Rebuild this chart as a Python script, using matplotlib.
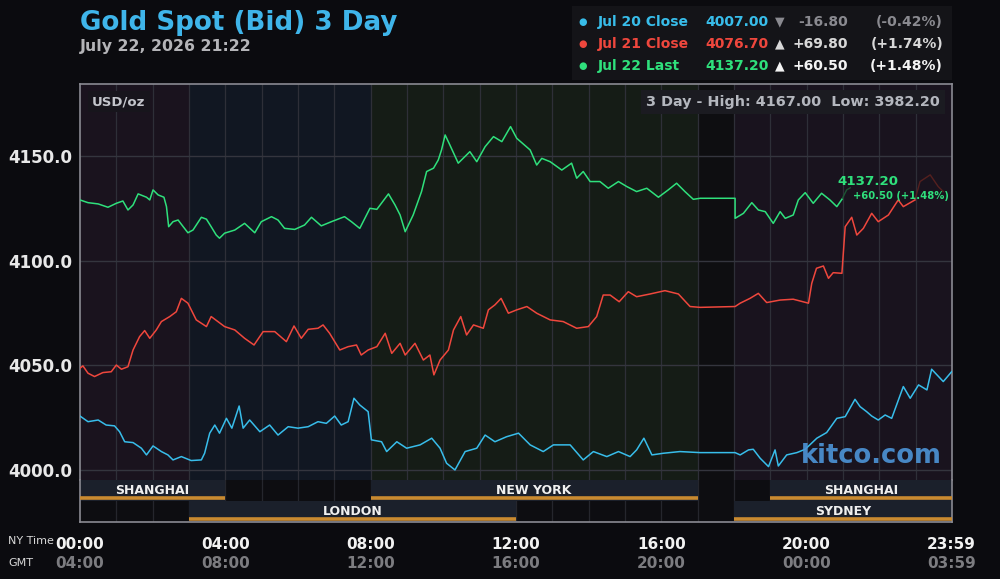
import numpy as np
import matplotlib as mpl
from matplotlib import pyplot as plt
from matplotlib.patches import Rectangle

# ---- data (hours NY time, USD/oz) ----
jul20_hours = [0.0, 0.22, 0.5, 0.72, 0.95, 1.09, 1.23, 1.46, 1.69, 1.83, 2.01, 2.24, 2.42, 2.56, 2.79,
               3.06, 3.34, 3.43, 3.57, 3.71, 3.84, 4.03, 4.18, 4.38, 4.49, 4.67, 4.95, 5.22, 5.45, 5.73,
               6.0, 6.28, 6.55, 6.78, 7.01, 7.19, 7.38, 7.54, 7.70, 7.93, 8.02, 8.30, 8.44, 8.72, 8.99,
               9.36, 9.68, 9.91, 10.09, 10.32, 10.60, 10.92, 11.15, 11.42, 11.74, 12.07, 12.39, 12.75,
               13.03, 13.49, 13.85, 14.13, 14.50, 14.82, 15.14, 15.32, 15.52, 15.74, 16.06, 16.51, 17.07,
               18.03, 18.17, 18.40, 18.53, 18.72, 18.95, 19.13, 19.22, 19.45, 19.73, 19.96, 20.28, 20.55,
               20.83, 21.06, 21.33, 21.47, 21.65, 21.79, 21.97, 22.16, 22.34, 22.66, 22.85, 23.08, 23.31,
               23.44, 23.76, 23.99]
jul20_values = [4025.8, 4023.1, 4023.9, 4021.5, 4021.1, 4018.3, 4013.5, 4013.1, 4010.4, 4007.2, 4011.5,
                4008.8, 4007.2, 4004.8, 4006.4, 4004.5, 4004.8, 4008.0, 4017.6, 4021.5, 4017.6, 4024.7,
                4020.0, 4030.6, 4020.0, 4023.9, 4018.3, 4021.5, 4016.7, 4020.7, 4020.0, 4020.7, 4023.1,
                4022.3, 4025.8, 4021.5, 4023.1, 4034.3, 4031.1, 4027.9, 4014.4, 4013.5, 4008.8, 4013.5,
                4010.4, 4012.0, 4015.2, 4010.4, 4003.2, 4000.0, 4008.8, 4010.4, 4016.7, 4013.5, 4015.9,
                4017.6, 4012.0, 4008.8, 4012.0, 4012.0, 4004.8, 4008.8, 4006.4, 4008.8, 4006.4, 4009.6,
                4015.2, 4007.2, 4008.0, 4008.8, 4008.3, 4008.3, 4007.2, 4009.6, 4009.9, 4005.6, 4001.6,
                4009.6, 4001.9, 4007.2, 4008.3, 4009.9, 4015.2, 4017.9, 4024.7, 4025.5, 4033.8, 4030.3,
                4027.9, 4025.8, 4023.9, 4026.3, 4024.7, 4039.9, 4034.3, 4040.7, 4038.3, 4048.2, 4042.3,
                4047.0]

jul21_hours = [0.0, 0.08, 0.22, 0.40, 0.63, 0.86, 1.0, 1.14, 1.32, 1.46, 1.64, 1.78, 1.92, 2.10, 2.24,
               2.47, 2.65, 2.79, 2.97, 3.20, 3.48, 3.61, 3.98, 4.26, 4.53, 4.79, 5.04, 5.36, 5.68, 5.89,
               6.09, 6.28, 6.55, 6.69, 6.87, 7.15, 7.38, 7.61, 7.74, 7.93, 8.17, 8.40, 8.58, 8.81, 8.95,
               9.22, 9.45, 9.63, 9.74, 9.91, 10.14, 10.28, 10.48, 10.64, 10.83, 11.10, 11.24, 11.42, 11.59,
               11.79, 12.02, 12.30, 12.57, 12.94, 13.30, 13.67, 13.99, 14.22, 14.40, 14.59, 14.84, 15.09,
               15.32, 15.69, 16.10, 16.47, 16.79, 17.07, 18.03, 18.17, 18.44, 18.67, 18.90, 19.27, 19.63,
               20.05, 20.14, 20.27, 20.46, 20.60, 20.73, 20.97, 21.06, 21.24, 21.38, 21.56, 21.79, 21.97,
               22.25, 22.52, 22.66, 22.98]
jul21_values = [4048.7, 4049.8, 4046.3, 4044.7, 4046.6, 4047.0, 4050.2, 4048.2, 4049.4, 4057.4, 4063.8,
                4066.7, 4063.0, 4067.0, 4071.0, 4073.4, 4075.7, 4082.1, 4079.8, 4071.8, 4068.6, 4073.4,
                4068.6, 4067.0, 4063.0, 4059.8, 4066.2, 4066.2, 4061.4, 4068.9, 4063.0, 4067.3, 4067.8,
                4069.4, 4065.4, 4057.4, 4059.0, 4059.8, 4055.0, 4057.4, 4059.0, 4065.4, 4055.8, 4060.6,
                4055.0, 4060.6, 4052.6, 4055.0, 4045.5, 4052.6, 4057.4, 4067.0, 4073.4, 4064.6, 4069.4,
                4067.8, 4076.6, 4079.0, 4082.1, 4075.0, 4076.6, 4078.2, 4075.0, 4071.8, 4071.0, 4067.8,
                4068.6, 4073.4, 4083.7, 4083.7, 4080.5, 4085.3, 4082.9, 4084.2, 4085.8, 4084.2, 4078.2,
                4077.8, 4078.2, 4079.8, 4082.1, 4084.5, 4080.1, 4081.3, 4081.7, 4079.8, 4089.3, 4096.5,
                4097.6, 4091.7, 4094.4, 4094.1, 4116.4, 4120.9, 4112.4, 4115.6, 4122.8, 4118.8, 4122.0,
                4129.2, 4126.0, 4129.2]
jul21_tail_hours = [22.98, 23.12, 23.40, 23.62, 23.76]
jul21_tail_values = [4129.2, 4138.0, 4141.2, 4135.6, 4133.2]

jul22_hours = [0.0, 0.22, 0.5, 0.77, 1.0, 1.18, 1.32, 1.46, 1.6, 1.83, 1.92, 2.01, 2.15, 2.31, 2.38, 2.44,
               2.56, 2.70, 2.84, 2.97, 3.11, 3.34, 3.48, 3.61, 3.75, 3.84, 3.98, 4.26, 4.53, 4.81, 4.99,
               5.27, 5.45, 5.63, 5.91, 6.18, 6.37, 6.64, 6.92, 7.28, 7.47, 7.70, 7.84, 7.98, 8.17, 8.49,
               8.67, 8.81, 8.95, 9.17, 9.40, 9.54, 9.73, 9.86, 9.95, 10.05, 10.18, 10.41, 10.73, 10.92,
               11.15, 11.38, 11.61, 11.85, 12.02, 12.39, 12.57, 12.71, 12.94, 13.26, 13.53, 13.67, 13.85,
               14.04, 14.31, 14.54, 14.82, 15.05, 15.32, 15.60, 15.92, 16.19, 16.42, 16.65, 16.88, 17.07,
               18.03, 18.03, 18.26, 18.49, 18.67, 18.86, 19.08, 19.27, 19.41, 19.63, 19.77, 19.96, 20.18,
               20.41, 20.64, 20.83, 20.97]
jul22_values = [4129.2, 4127.9, 4127.3, 4125.7, 4127.6, 4128.7, 4124.4, 4126.8, 4132.1, 4130.5, 4129.2,
                4134.0, 4131.6, 4130.5, 4126.0, 4116.4, 4118.8, 4119.6, 4116.4, 4113.5, 4114.8, 4120.9,
                4120.0, 4116.4, 4112.4, 4110.9, 4113.3, 4114.8, 4118.0, 4113.5, 4118.8, 4121.2, 4119.6,
                4115.6, 4115.1, 4117.2, 4120.9, 4116.8, 4118.8, 4121.2, 4118.8, 4115.6, 4120.4, 4125.2,
                4124.7, 4132.1, 4126.8, 4122.0, 4114.0, 4122.0, 4133.2, 4142.8, 4144.4, 4148.3, 4153.1,
                4160.3, 4155.5, 4146.8, 4152.3, 4147.5, 4154.7, 4159.5, 4157.1, 4164.3, 4158.7, 4153.1,
                4145.9, 4149.1, 4147.5, 4143.5, 4146.8, 4139.6, 4142.8, 4138.0, 4138.0, 4134.8, 4138.0,
                4135.6, 4133.2, 4134.8, 4130.5, 4134.0, 4137.2, 4133.2, 4129.5, 4130.0, 4130.0, 4120.4,
                4122.8, 4127.9, 4124.4, 4123.6, 4118.0, 4123.6, 4120.4, 4122.0, 4129.2, 4132.7, 4127.6,
                4132.4, 4129.2, 4126.0, 4129.5]
jul22_tail_hours = [20.97, 21.1, 21.2]
jul22_tail_values = [4129.5, 4134.0, 4135.0]

# background sessions in the price area (start, end, colour)
shade_spans = [(0, 3, "#1a131e"), (3, 8, "#111722"), (8, 17, "#151c16"), (17, 18, "#0e0e11"), (18, 24, "#19131e")]

# market sessions below the chart (name, start, end, row)
session_names = ["SHANGHAI", "NEW YORK", "SHANGHAI", "LONDON", "SYDNEY"]
session_start = [0, 8, 19, 3, 18]
session_end = [4, 17, 24, 12, 24]
session_row = [0, 0, 0, 1, 1]

legend_labels = ["Jul 20 Close", "Jul 21 Close", "Jul 22 Last"]
legend_values = ["4007.00", "4076.70", "4137.20"]
legend_arrows = ["\u25BC", "\u25B2", "\u25B2"]
legend_changes = ["-16.80", "+69.80", "+60.50"]
legend_pcts = ["(-0.42%)", "(+1.74%)", "(+1.48%)"]

ny_ticks = [0, 4, 8, 12, 16, 20, 23.99]
ny_labels = ["00:00", "04:00", "08:00", "12:00", "16:00", "20:00", "23:59"]
gmt_labels = ["04:00", "08:00", "12:00", "16:00", "20:00", "00:00", "03:59"]
y_ticks = [4000, 4050, 4100, 4150]

CYAN = "#38bdea"
RED = "#ef473d"
GREEN = "#2fe07c"
BG = "#0b0b0f"

mpl.rcParams['font.family'] = 'DejaVu Sans'

fig = plt.figure(figsize=(10, 5.79), dpi=100, facecolor=BG)
ax = fig.add_axes([0.08, 0.171, 0.872, 0.684])
sax = fig.add_axes([0.08, 0.0985, 0.872, 0.0725])

# price area
ax.set_facecolor(BG)
ax.set_xlim(0, 24)
ax.set_ylim(3995.2, 4184.7)
for start, end, col in shade_spans:
    ax.axvspan(start, end, color=col, lw=0, zorder=0)
for h in range(1, 24):
    ax.axvline(h, color="#2e2f38", lw=0.9, zorder=1)
for yv in y_ticks:
    ax.axhline(yv, color="#34353e", lw=1.0, zorder=1)

ax.plot(jul22_tail_hours, jul22_tail_values, color="#1d5634", lw=1.0, zorder=2)
ax.plot(jul21_tail_hours, jul21_tail_values, color="#55201f", lw=1.0, zorder=2)
ax.plot(jul20_hours, jul20_values, color=CYAN, lw=1.1, zorder=3)
ax.plot(jul21_hours, jul21_values, color=RED, lw=1.1, zorder=3)
ax.plot(jul22_hours, jul22_values, color=GREEN, lw=1.1, zorder=3)

ax.set_xticks([])
ax.set_yticks(y_ticks)
ax.set_yticklabels(["{:.1f}".format(v) for v in y_ticks])
ax.tick_params(axis="y", length=0, pad=5.5, labelsize=12, labelcolor="#e8e8e8")
for lab in ax.get_yticklabels():
    lab.set_fontweight("bold")
for side in ["left", "top", "right"]:
    ax.spines[side].set_color("#8a8a92")
    ax.spines[side].set_linewidth(1.2)
ax.spines["bottom"].set_visible(False)

ax.text(0.014, 0.955, "USD/oz", transform=ax.transAxes, color="#c4c6cc", fontsize=9.5,
        fontweight="bold", va="center", ha="left", zorder=5,
        bbox=dict(boxstyle="square,pad=0.3", fc="#17151c", ec="none"))
ax.text(0.986, 0.955, "3 Day - High: 4167.00  Low: 3982.20", transform=ax.transAxes,
        color="#b4b7be", fontsize=10.4, fontweight="bold", va="center", ha="right", zorder=5,
        bbox=dict(boxstyle="square,pad=0.35", fc="#1b1b21", ec="none"))
ax.text(20.84, 4138.0, "4137.20", color=GREEN, fontsize=9.6, fontweight="bold", va="center", ha="left", zorder=5)
ax.text(21.27, 4131.3, "+60.50 (+1.48%)", color=GREEN, fontsize=7.2, fontweight="bold", va="center", ha="left", zorder=5)
ax.text(0.988, 0.06, "kitco.com", transform=ax.transAxes, color="#4d95d8", alpha=0.9,
        fontsize=18.5, fontweight="bold", va="center", ha="right", zorder=4)

# session bars
sax.set_facecolor("#0d0d11")
sax.set_xlim(0, 24)
sax.set_ylim(2, 0)
for h in range(1, 24):
    sax.axvline(h, color="#25262d", lw=0.9, zorder=1)
for name, s, e, r in zip(session_names, session_start, session_end, session_row):
    sax.add_patch(Rectangle((s, r), e - s, 1, fc="#1b202b", ec="none", zorder=2))
    sax.plot([s, e], [r + 0.85, r + 0.85], color="#c98a30", lw=2.6, solid_capstyle="butt", zorder=3)
    sax.text((s + e) / 2, r + 0.5, name, color="#f0f0f0", fontsize=9, fontweight="bold",
             ha="center", va="center", zorder=4)
sax.set_xticks(ny_ticks)
sax.set_xticklabels(ny_labels)
sax.set_yticks([])
sax.tick_params(axis="x", length=0, pad=11, labelsize=11, labelcolor="#f2f2f2")
for lab in sax.get_xticklabels():
    lab.set_fontweight("bold")
for side in ["left", "right", "bottom"]:
    sax.spines[side].set_color("#8a8a92")
    sax.spines[side].set_linewidth(1.2)
sax.spines["top"].set_visible(False)
gmt_trans = mpl.transforms.blended_transform_factory(sax.transData, fig.transFigure)
for t, g in zip(ny_ticks, gmt_labels):
    sax.text(t, 1 - 563 / 579, g, transform=gmt_trans,
             color="#7c7c80", fontsize=11, fontweight="bold", ha="center", va="center")

fig.text(8 / 1000, 1 - 541 / 579, "NY Time", color="#d8d8d8", fontsize=8, ha="left", va="center")
fig.text(8 / 1000, 1 - 563 / 579, "GMT", color="#d8d8d8", fontsize=8, ha="left", va="center")

# title block
fig.text(0.08, 1 - 23 / 579, "Gold Spot (Bid) 3 Day", color="#3fb5ea", fontsize=18.8,
         fontweight="bold", ha="left", va="center")
fig.text(0.08, 1 - 46 / 579, "July 22, 2026 21:22", color="#b4b4b8", fontsize=11.3,
         fontweight="bold", ha="left", va="center")

# legend box
fig.patches.append(Rectangle((572 / 1000, 1 - 80 / 579), 380 / 1000, 74 / 579, transform=fig.transFigure,
                             fc="#141418", ec="none", zorder=0))
series_cols = [CYAN, RED, GREEN]
arrow_cols = ["#8a8a90", "#d8d8d8", "#f4f4f4"]
for i in range(3):
    yy = 1 - (22 + 22 * i) / 579
    fig.text(583 / 1000, yy, "\u25CF", color=series_cols[i], fontsize=7, ha="center", va="center")
    fig.text(598 / 1000, yy, legend_labels[i], color=series_cols[i], fontsize=10, fontweight="bold", ha="left", va="center")
    fig.text(705 / 1000, yy, legend_values[i], color=series_cols[i], fontsize=10, fontweight="bold", ha="left", va="center")
    fig.text(780 / 1000, yy, legend_arrows[i], color=arrow_cols[i], fontsize=9, ha="center", va="center")
    fig.text(848 / 1000, yy, legend_changes[i], color=arrow_cols[i], fontsize=10, fontweight="bold", ha="right", va="center")
    fig.text(943 / 1000, yy, legend_pcts[i], color=arrow_cols[i], fontsize=10, fontweight="bold", ha="right", va="center")

fig.savefig("out.png", dpi=100, facecolor=BG)
